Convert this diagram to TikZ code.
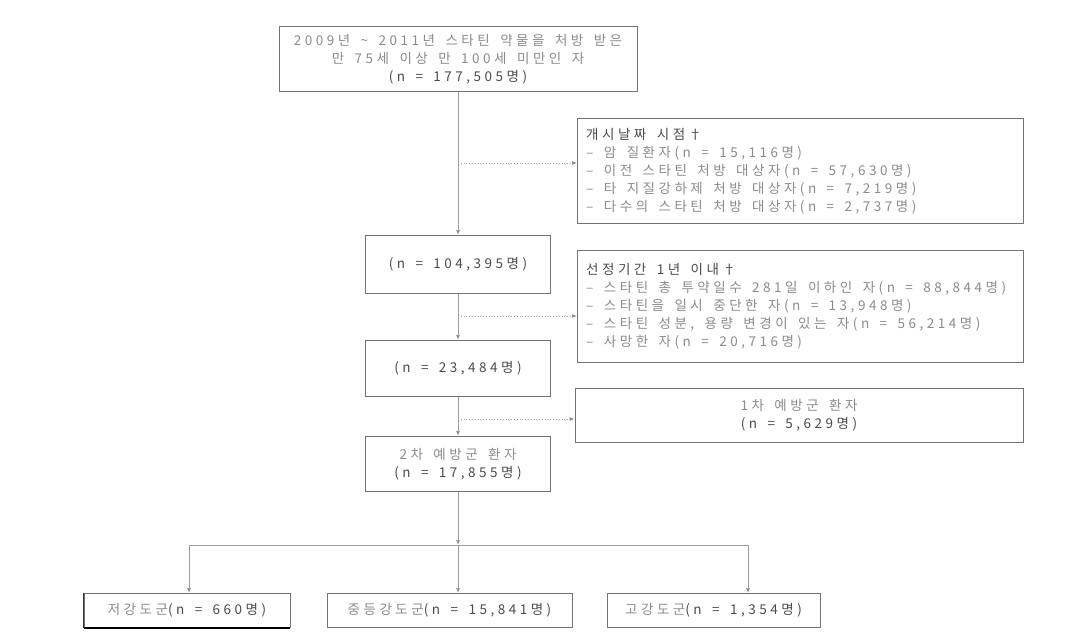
\documentclass[tikz,border=0pt]{standalone}
\usepackage{fontspec}
\usetikzlibrary{arrows.meta}
\newfontfamily\kr[LetterSpace=26,WordSpace=1.6]{Noto Sans CJK KR}
\definecolor{txt}{gray}{0.55}
\definecolor{dtxt}{gray}{0.3}
\definecolor{edge}{gray}{0.45}
\newcommand{\krfont}{\kr\fontsize{13.5}{18}\selectfont}
\begin{document}
\begin{tikzpicture}[x=1pt,y=-1pt,
  box/.style={draw=edge,line width=0.8pt,rectangle,inner sep=0pt,anchor=north,font=\krfont,text=txt,align=center},
  frame/.style={draw=edge,line width=0.8pt,rectangle,inner sep=0pt,anchor=north west},
  ltext/.style={anchor=west,inner sep=0pt,font=\krfont,text=txt,align=left},
  vline/.style={draw=edge!70,line width=0.8pt},
  arr/.style={vline,-{Latex[length=5pt,width=4pt,fill=black]}},
  darr/.style={draw=edge!70,line width=0.8pt,dotted,-{Latex[length=5pt,width=4pt,fill=black]}}]
\useasboundingbox[fill=white] (0,0) rectangle (1082,643);
% top box
\node[box,minimum width=358,minimum height=65] (b1) at (458,26)
  {2009년 {\char"007E} 2011년 스타틴 약물을 처방 받은\\만 75세 이상 만 100세 미만인 자\\\textcolor{dtxt}{(n = 177,505명)}};
% exclusion 1
\node[frame,minimum width=446,minimum height=105] (e1) at (577,118) {};
\node[ltext] (e1t) at ([xshift=9pt]e1.west)
  {\textcolor{dtxt}{개시날짜 시점†}\\ – 암 질환자(n = 15,116명)\\ – 이전 스타틴 처방 대상자(n = 57,630명)\\ – 타 지질강하제 처방 대상자(n = 7,219명)\\ – 다수의 스타틴 처방 대상자(n = 2,737명)};
% box 2
\node[box,minimum width=185,minimum height=58,text=dtxt] (b2) at (458,235) {(n = 104,395명)};
% exclusion 2
\node[frame,minimum width=446,minimum height=112] (e2) at (577,250) {};
\node[ltext] (e2t) at ([xshift=9pt]e2.west)
  {\textcolor{dtxt}{선정기간 1년 이내†}\\ – 스타틴 총 투약일수 281일 이하인 자(n = 88,844명)\\ – 스타틴을 일시 중단한 자(n = 13,948명)\\ – 스타틴 성분, 용량 변경이 있는 자(n = 56,214명)\\ – 사망한 자(n = 20,716명)};
% box 3
\node[box,minimum width=185,minimum height=56,text=dtxt] (b3) at (458,340) {(n = 23,484명)};
% primary prevention
\node[box,minimum width=448,minimum height=54] (p1) at (799,388) {1차 예방군 환자\\\textcolor{dtxt}{(n = 5,629명)}};
% box 4
\node[box,minimum width=185,minimum height=55] (b4) at (458,436) {2차 예방군 환자\\\textcolor{dtxt}{(n = 17,855명)}};
% bottom boxes
\node[box,minimum width=206,minimum height=34] (lo) at (187,593) {저강도군\textcolor{dtxt}{(n = 660명)}};
\node[box,minimum width=245,minimum height=34] (mi) at (449.5,593) {중등강도군\textcolor{dtxt}{(n = 15,841명)}};
\node[box,minimum width=213,minimum height=34] (hi) at (713.5,593) {고강도군\textcolor{dtxt}{(n = 1,354명)}};
\draw[black,line width=2pt] (lo.south west) -- (lo.south east);
\draw[black!80,line width=1pt] (lo.south west) -- (lo.north west);
% connectors
\coordinate (c1) at (458,163);
\coordinate (c2) at (458,316);
\coordinate (c3) at (458,419);
\coordinate (j) at (458,545);
\coordinate (jl) at (189,545);
\coordinate (jr) at (748,545);
\draw[arr] (b1.south) -- (b2.north);
\draw[darr] (c1) -- (c1 -| e1.west);
\draw[arr] (b2.south) -- (b3.north);
\draw[darr] (c2) -- (c2 -| e2.west);
\draw[arr] (b3.south) -- (b4.north);
\draw[darr] (c3) -- (c3 -| p1.west);
\draw[arr] (b4.south) -- (j);
\draw[vline] (jl) -- (jr);
\draw[arr] (jl) -- (jl |- lo.north);
\draw[arr] (j) -- (j |- mi.north);
\draw[arr] (jr) -- (jr |- hi.north);
\end{tikzpicture}
\end{document}
